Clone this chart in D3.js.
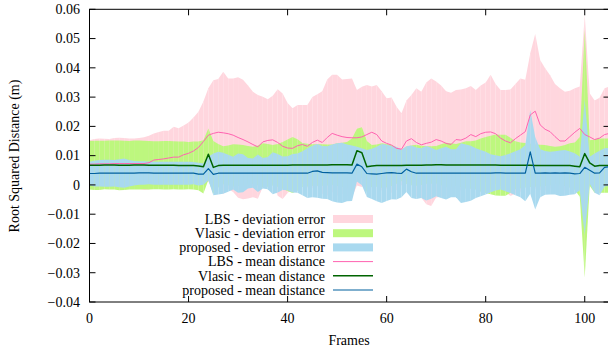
<!DOCTYPE html>
<html>
<head>
<meta charset="utf-8">
<script src="https://cdn.jsdelivr.net/npm/d3@7"></script>
<style>
  html, body { margin: 0; padding: 0; background: #fff; }
  svg { display: block; font-family: "Liberation Serif", "DejaVu Serif", serif; }
</style>
</head>
<body>
<svg id="chart" width="608" height="352"></svg>
<script>
// Mean distance and deviation per frame (m)
const lbsMean = [
  0.0071,0.0071,0.0072,0.0072,0.0072,0.0073,0.0073,0.0073,0.0073,0.0073,
  0.0073,0.0073,0.0076,0.0085,0.0087,0.0089,0.0092,0.0095,0.0095,0.0103,
  0.0108,0.0116,0.0128,0.0148,0.0170,0.0176,0.0180,0.0178,0.0175,0.0170,
  0.0162,0.0155,0.0147,0.0138,0.0130,0.0147,0.0152,0.0154,0.0145,0.0132,
  0.0126,0.0125,0.0134,0.0138,0.0132,0.0145,0.0153,0.0145,0.0162,0.0176,
  0.0170,0.0165,0.0162,0.0161,0.0161,0.0164,0.0172,0.0180,0.0172,0.0150,
  0.0142,0.0136,0.0125,0.0122,0.0150,0.0158,0.0145,0.0137,0.0142,0.0146,
  0.0155,0.0150,0.0142,0.0138,0.0155,0.0153,0.0160,0.0172,0.0165,0.0175,
  0.0180,0.0181,0.0175,0.0160,0.0150,0.0144,0.0158,0.0170,0.0182,0.0239,
  0.0252,0.0205,0.0190,0.0182,0.0165,0.0150,0.0150,0.0165,0.0180,0.0193,
  0.0172,0.0164,0.0155,0.0160,0.0172,0.0176];
const lbsDev = [
  0.0082,0.0086,0.0087,0.0086,0.0085,0.0087,0.0088,0.0087,0.0086,0.0086,
  0.0087,0.0090,0.0092,0.0091,0.0094,0.0096,0.0093,0.0104,0.0099,0.0100,
  0.0105,0.0114,0.0122,0.0137,0.0160,0.0182,0.0182,0.0209,0.0189,0.0194,
  0.0206,0.0204,0.0193,0.0180,0.0177,0.0154,0.0141,0.0151,0.0182,0.0180,
  0.0154,0.0137,0.0139,0.0135,0.0141,0.0155,0.0157,0.0175,0.0198,0.0200,
  0.0206,0.0195,0.0200,0.0203,0.0163,0.0171,0.0169,0.0156,0.0169,0.0170,
  0.0154,0.0163,0.0142,0.0123,0.0138,0.0149,0.0185,0.0181,0.0208,0.0218,
  0.0198,0.0190,0.0178,0.0177,0.0169,0.0173,0.0170,0.0166,0.0159,0.0165,
  0.0170,0.0195,0.0170,0.0164,0.0174,0.0182,0.0187,0.0194,0.0177,0.0211,
  0.0264,0.0222,0.0209,0.0193,0.0180,0.0180,0.0168,0.0157,0.0150,0.0143,
  0.0408,0.0149,0.0133,0.0138,0.0158,0.0160];

const vlasicMean = [
  0.0067,0.0067,0.0067,0.0068,0.0068,0.0068,0.0067,0.0067,0.0067,0.0068,
  0.0068,0.0068,0.0067,0.0067,0.0067,0.0067,0.0067,0.0067,0.0066,0.0066,
  0.0066,0.0066,0.0065,0.0062,0.0105,0.0060,0.0066,0.0067,0.0067,0.0067,
  0.0067,0.0067,0.0067,0.0067,0.0067,0.0067,0.0067,0.0067,0.0067,0.0067,
  0.0067,0.0068,0.0068,0.0068,0.0068,0.0068,0.0068,0.0068,0.0068,0.0069,
  0.0069,0.0069,0.0069,0.0068,0.0117,0.0110,0.0062,0.0065,0.0066,0.0066,
  0.0066,0.0066,0.0066,0.0066,0.0067,0.0067,0.0067,0.0067,0.0068,0.0068,
  0.0069,0.0069,0.0068,0.0068,0.0068,0.0068,0.0068,0.0068,0.0068,0.0068,
  0.0068,0.0068,0.0068,0.0067,0.0067,0.0067,0.0067,0.0067,0.0067,0.0067,
  0.0066,0.0066,0.0066,0.0066,0.0066,0.0066,0.0066,0.0066,0.0064,0.0062,
  0.0107,0.0075,0.0064,0.0066,0.0066,0.0066];
const vlasicDev = [
  0.0083,0.0084,0.0084,0.0083,0.0084,0.0084,0.0085,0.0084,0.0083,0.0084,
  0.0084,0.0083,0.0083,0.0082,0.0082,0.0083,0.0083,0.0082,0.0082,0.0082,
  0.0081,0.0082,0.0083,0.0091,0.0088,0.0090,0.0074,0.0065,0.0068,0.0072,
  0.0071,0.0069,0.0066,0.0063,0.0068,0.0075,0.0073,0.0069,0.0073,0.0080,
  0.0088,0.0096,0.0088,0.0075,0.0073,0.0071,0.0071,0.0071,0.0070,0.0069,
  0.0073,0.0075,0.0078,0.0091,0.0075,0.0087,0.0088,0.0071,0.0072,0.0076,
  0.0074,0.0070,0.0062,0.0053,0.0064,0.0068,0.0070,0.0067,0.0064,0.0064,
  0.0064,0.0070,0.0076,0.0074,0.0072,0.0076,0.0081,0.0081,0.0084,0.0091,
  0.0096,0.0100,0.0104,0.0104,0.0104,0.0094,0.0082,0.0078,0.0076,0.0074,
  0.0072,0.0071,0.0070,0.0067,0.0064,0.0066,0.0070,0.0076,0.0081,0.0102,
  0.0423,0.0078,0.0091,0.0093,0.0093,0.0093];

const proposedMean = [
  0.0039,0.0039,0.0040,0.0040,0.0040,0.0040,0.0040,0.0040,0.0040,0.0040,
  0.0041,0.0041,0.0041,0.0040,0.0040,0.0040,0.0040,0.0040,0.0040,0.0040,
  0.0040,0.0040,0.0037,0.0037,0.0056,0.0036,0.0040,0.0040,0.0040,0.0040,
  0.0040,0.0040,0.0040,0.0040,0.0040,0.0040,0.0040,0.0040,0.0040,0.0040,
  0.0040,0.0040,0.0040,0.0040,0.0040,0.0046,0.0048,0.0043,0.0042,0.0041,
  0.0041,0.0041,0.0041,0.0040,0.0071,0.0062,0.0039,0.0038,0.0037,0.0039,
  0.0041,0.0042,0.0040,0.0039,0.0054,0.0045,0.0040,0.0040,0.0040,0.0040,
  0.0040,0.0040,0.0040,0.0040,0.0040,0.0040,0.0040,0.0040,0.0040,0.0040,
  0.0040,0.0040,0.0041,0.0041,0.0040,0.0040,0.0040,0.0040,0.0040,0.0113,
  0.0040,0.0040,0.0041,0.0040,0.0041,0.0040,0.0041,0.0040,0.0038,0.0039,
  0.0060,0.0050,0.0040,0.0041,0.0060,0.0062];
const proposedDev = [
  0.0040,0.0044,0.0045,0.0046,0.0046,0.0045,0.0048,0.0050,0.0045,0.0042,
  0.0040,0.0040,0.0039,0.0039,0.0039,0.0039,0.0039,0.0039,0.0039,0.0039,
  0.0039,0.0038,0.0039,0.0036,0.0040,0.0071,0.0073,0.0070,0.0063,0.0056,
  0.0067,0.0065,0.0052,0.0050,0.0064,0.0052,0.0055,0.0072,0.0066,0.0057,
  0.0058,0.0066,0.0067,0.0075,0.0085,0.0088,0.0092,0.0090,0.0090,0.0097,
  0.0101,0.0103,0.0097,0.0095,0.0059,0.0063,0.0080,0.0086,0.0093,0.0101,
  0.0096,0.0091,0.0090,0.0081,0.0078,0.0090,0.0088,0.0085,0.0093,0.0087,
  0.0079,0.0085,0.0090,0.0082,0.0082,0.0102,0.0098,0.0094,0.0085,0.0079,
  0.0073,0.0065,0.0060,0.0057,0.0062,0.0068,0.0075,0.0082,0.0096,0.0143,
  0.0124,0.0082,0.0075,0.0073,0.0074,0.0078,0.0078,0.0074,0.0070,0.0057,
  0.0230,0.0046,0.0067,0.0076,0.0065,0.0065];

const xTicks = [0, 20, 40, 60, 80, 100];
const yTicks = [-0.04, -0.03, -0.02, -0.01, 0, 0.01, 0.02, 0.03, 0.04, 0.05, 0.06];

const series = [
  { name: "LBS", mean: lbsMean, dev: lbsDev, fill: "#ffd6de", line: "#ff63b0", lw: 1 },
  { name: "Vlasic", mean: vlasicMean, dev: vlasicDev, fill: "#bdf77e", line: "#006400", lw: 1.5 },
  { name: "proposed", mean: proposedMean, dev: proposedDev, fill: "#a9d9ef", line: "#00609e", lw: 1.2 },
];

// Plot box (right edge falls just outside the 608px window, like the reference)
const plotLeft = 89.5, plotRight = 609.5, plotTop = 9.3, plotBottom = 302;
const x = d3.scaleLinear().domain([0, 105]).range([plotLeft, plotRight]);
const y = d3.scaleLinear().domain([-0.04, 0.06]).range([plotBottom, plotTop]);

const svg = d3.select("#chart");
const font = 14;

svg.append("defs").append("clipPath").attr("id", "plotclip")
  .append("rect").attr("x", plotLeft).attr("y", plotTop)
  .attr("width", plotRight - plotLeft).attr("height", plotBottom - plotTop);

const plot = svg.append("g").attr("clip-path", "url(#plotclip)");

// Deviation bands: one quad per frame step, which leaves the faint seams gnuplot shows
series.forEach((s) => {
  const g = plot.append("g").attr("fill", s.fill);
  for (let i = 0; i < s.mean.length - 1; i++) {
    const x0 = x(i), x1 = x(i + 1);
    const path = d3.path();
    path.moveTo(x0, y(s.mean[i] + s.dev[i]));
    path.lineTo(x1, y(s.mean[i + 1] + s.dev[i + 1]));
    path.lineTo(x1, y(s.mean[i + 1] - s.dev[i + 1]));
    path.lineTo(x0, y(s.mean[i] - s.dev[i]));
    path.closePath();
    g.append("path").attr("d", path.toString());
  }
});

// Mean distance lines
const line = d3.line().x((d, i) => x(i)).y((d) => y(d));
series.forEach((s) => {
  plot.append("path")
    .attr("d", line(s.mean))
    .attr("fill", "none")
    .attr("stroke", s.line)
    .attr("stroke-width", s.lw)
    .attr("stroke-linejoin", "round");
});

// Frame
svg.append("rect")
  .attr("x", plotLeft).attr("y", plotTop)
  .attr("width", plotRight - plotLeft).attr("height", plotBottom - plotTop)
  .attr("fill", "none").attr("stroke", "#000").attr("stroke-width", 1);

// Ticks, inward on all four sides
const tickLen = 6;
const ticks = svg.append("g").attr("stroke", "#000").attr("stroke-width", 1);
yTicks.forEach((v) => {
  const yy = y(v);
  ticks.append("line").attr("x1", plotLeft).attr("x2", plotLeft + tickLen).attr("y1", yy).attr("y2", yy);
  ticks.append("line").attr("x1", plotRight).attr("x2", plotRight - tickLen).attr("y1", yy).attr("y2", yy);
});
xTicks.forEach((v) => {
  const xx = x(v);
  ticks.append("line").attr("x1", xx).attr("x2", xx).attr("y1", plotBottom).attr("y2", plotBottom - tickLen);
  ticks.append("line").attr("x1", xx).attr("x2", xx).attr("y1", plotTop).attr("y2", plotTop + tickLen);
});

const fmtY = (v) => {
  if (Math.abs(v) < 1e-9) return "0";
  const s = Math.abs(v).toFixed(2);
  return v < 0 ? "\u2212" + s : s;
};

svg.append("g").selectAll("text").data(yTicks).enter().append("text")
  .attr("x", 80).attr("y", (d) => y(d) + 4.8)
  .attr("text-anchor", "end").attr("font-size", font)
  .text(fmtY);

svg.append("g").selectAll("text").data(xTicks).enter().append("text")
  .attr("x", (d) => x(d)).attr("y", 323)
  .attr("text-anchor", "middle").attr("font-size", font)
  .text((d) => d);

// Axis titles
svg.append("text")
  .attr("x", 349).attr("y", 345)
  .attr("text-anchor", "middle").attr("font-size", font)
  .text("Frames");

svg.append("text")
  .attr("transform", "translate(19,156) rotate(-90)")
  .attr("text-anchor", "middle").attr("font-size", font)
  .text("Root Squared Distance (m)");

// Legend
const legendRows = [
  ...series.map((s) => ({ label: s.name + " - deviation error", type: "fill", s })),
  ...series.map((s) => ({ label: s.name + " - mean distance", type: "line", s })),
];
const legend = svg.append("g");
legendRows.forEach((r, i) => {
  const cy = 219 + i * 14.2;
  legend.append("text")
    .attr("x", 325).attr("y", cy + 4.8)
    .attr("text-anchor", "end").attr("font-size", font)
    .text(r.label);
  if (r.type === "fill") {
    legend.append("rect")
      .attr("x", 333).attr("y", cy - 4).attr("width", 40).attr("height", 8)
      .attr("fill", r.s.fill);
  } else {
    legend.append("line")
      .attr("x1", 333).attr("x2", 373).attr("y1", cy).attr("y2", cy)
      .attr("stroke", r.s.line).attr("stroke-width", r.s.lw);
  }
});
</script>
</body>
</html>
